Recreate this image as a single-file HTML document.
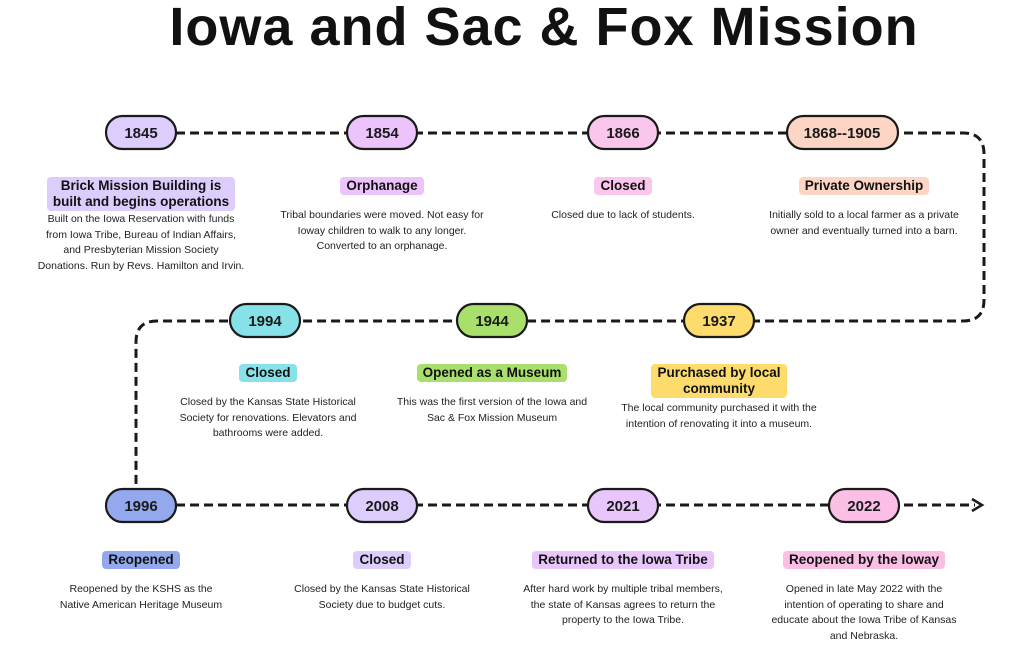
<!DOCTYPE html>
<html><head><meta charset="utf-8"><style>
body{margin:0;width:1024px;height:650px;background:#fff;position:relative;overflow:hidden;font-family:"Liberation Sans",sans-serif;color:#111}
h1{position:absolute;top:-2px;left:0;width:1088px;margin:0;text-align:center;font-size:54px;line-height:58px;font-weight:bold;letter-spacing:1px}
.b{position:absolute;width:280px;text-align:center}
.l{display:inline-block;font-weight:bold;font-size:13.5px;line-height:16px;padding:1px 6px;border-radius:4px}
.t{font-size:10.5px;line-height:15.5px;color:#222;margin-top:13px}
svg{position:absolute;left:0;top:0}
</style></head><body>
<h1>Iowa and Sac &amp; Fox Mission</h1>
<svg width="1024" height="650">
<g fill="none" stroke="#1a1a1a" stroke-width="3" stroke-dasharray="9,5">
<path d="M176 133 H963 Q984 133 984 154 V300 Q984 321 963 321 H157 Q136 321 136 342 V490"/>
<path d="M176 505 H975"/>
</g>
<path d="M972 499 L982 505 L972 511" fill="none" stroke="#1a1a1a" stroke-width="2.5"/>
<g stroke="#1a1a1a" stroke-width="2.2" font-family="Liberation Sans" font-weight="bold" font-size="15" text-anchor="middle">
<rect x="106" y="116" width="70" height="33" rx="16.5" fill="#dccdfc"/>
<rect x="347" y="116" width="70" height="33" rx="16.5" fill="#ecc4fb"/>
<rect x="588" y="116" width="70" height="33" rx="16.5" fill="#fbc6ec"/>
<rect x="787" y="116" width="111" height="33" rx="16.5" fill="#fdd5c4"/>
<rect x="230" y="304" width="70" height="33" rx="16.5" fill="#86e2e8"/>
<rect x="457" y="304" width="70" height="33" rx="16.5" fill="#a9e06c"/>
<rect x="684" y="304" width="70" height="33" rx="16.5" fill="#fddb6c"/>
<rect x="106" y="489" width="70" height="33" rx="16.5" fill="#94a8ee"/>
<rect x="347" y="489" width="70" height="33" rx="16.5" fill="#dccdfc"/>
<rect x="588" y="489" width="70" height="33" rx="16.5" fill="#e8c6fb"/>
<rect x="829" y="489" width="70" height="33" rx="16.5" fill="#fbbfe6"/>
<g stroke="none" fill="#1a1a1a">
<text x="141" y="138">1845</text><text x="382" y="138">1854</text><text x="623" y="138">1866</text><text x="842" y="138">1868--1905</text>
<text x="265" y="326">1994</text><text x="492" y="326">1944</text><text x="719" y="326">1937</text>
<text x="141" y="511">1996</text><text x="382" y="511">2008</text><text x="623" y="511">2021</text><text x="864" y="511">2022</text>
</g></g>
</svg>
<div class="b" style="left:1px;top:177px"><span class="l" style="background:#dccdfc">Brick Mission Building is<br>built and begins operations</span><div class="t" style="margin-top:1px">Built on the Iowa Reservation with funds<br>from Iowa Tribe, Bureau of Indian Affairs,<br>and Presbyterian Mission Society<br>Donations. Run by Revs. Hamilton and Irvin.</div></div>
<div class="b" style="left:242px;top:177px"><span class="l" style="background:#ecc4fb">Orphanage</span><div class="t">Tribal boundaries were moved. Not easy for<br>Ioway children to walk to any longer.<br>Converted to an orphanage.</div></div>
<div class="b" style="left:483px;top:177px"><span class="l" style="background:#fbc6ec">Closed</span><div class="t">Closed due to lack of students.</div></div>
<div class="b" style="left:724px;top:177px"><span class="l" style="background:#fdd5c4">Private Ownership</span><div class="t">Initially sold to a local farmer as a private<br>owner and eventually turned into a barn.</div></div>
<div class="b" style="left:128px;top:364px"><span class="l" style="background:#86e2e8">Closed</span><div class="t">Closed by the Kansas State Historical<br>Society for renovations. Elevators and<br>bathrooms were added.</div></div>
<div class="b" style="left:352px;top:364px"><span class="l" style="background:#a9e06c">Opened as a Museum</span><div class="t">This was the first version of the Iowa and<br>Sac &amp; Fox Mission Museum</div></div>
<div class="b" style="left:579px;top:364px"><span class="l" style="background:#fddb6c">Purchased by local<br>community</span><div class="t" style="margin-top:3px">The local community purchased it with the<br>intention of renovating it into a museum.</div></div>
<div class="b" style="left:1px;top:551px"><span class="l" style="background:#94a8ee">Reopened</span><div class="t">Reopened by the KSHS as the<br>Native American Heritage Museum</div></div>
<div class="b" style="left:242px;top:551px"><span class="l" style="background:#dccdfc">Closed</span><div class="t">Closed by the Kansas State Historical<br>Society due to budget cuts.</div></div>
<div class="b" style="left:483px;top:551px"><span class="l" style="background:#e8c6fb">Returned to the Iowa Tribe</span><div class="t">After hard work by multiple tribal members,<br>the state of Kansas agrees to return the<br>property to the Iowa Tribe.</div></div>
<div class="b" style="left:724px;top:551px"><span class="l" style="background:#fbbfe6">Reopened by the Ioway</span><div class="t">Opened in late May 2022 with the<br>intention of operating to share and<br>educate about the Iowa Tribe of Kansas<br>and Nebraska.</div></div>
</body></html>
